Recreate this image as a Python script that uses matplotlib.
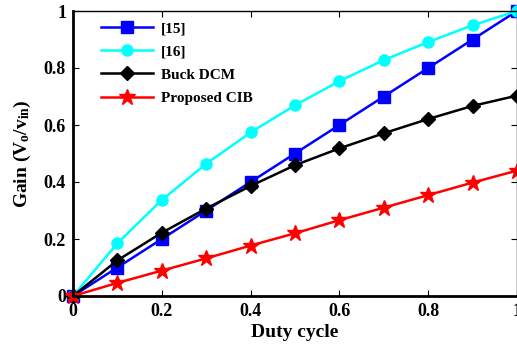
import matplotlib.pyplot as plt

plt.rcParams['font.family'] = 'Liberation Serif'
plt.rcParams['font.weight'] = 'bold'
plt.rcParams['axes.labelweight'] = 'bold'
plt.rcParams['mathtext.fontset'] = 'custom'
plt.rcParams['mathtext.rm'] = 'Liberation Serif:weight=bold'
plt.rcParams['mathtext.it'] = 'Liberation Serif:weight=bold'
plt.rcParams['mathtext.bf'] = 'Liberation Serif:weight=bold'

# duty cycle and gain values
duty = [0, 0.1, 0.2, 0.3, 0.4, 0.5, 0.6, 0.7, 0.8, 0.9, 1.0]
gain_15 = [0, 0.1, 0.2, 0.3, 0.4, 0.5, 0.6, 0.7, 0.8, 0.9, 1.0]
gain_16 = [0, 0.185, 0.337, 0.464, 0.574, 0.669, 0.754, 0.828, 0.891, 0.950, 1.0]
gain_buck = [0, 0.125, 0.222, 0.307, 0.386, 0.459, 0.518, 0.571, 0.621, 0.667, 0.703]
gain_cib = [0, 0.046, 0.089, 0.132, 0.177, 0.220, 0.266, 0.310, 0.354, 0.398, 0.440]

ticks = [0, 0.2, 0.4, 0.6, 0.8, 1]
tick_labels = ['0', '0.2', '0.4', '0.6', '0.8', '1']

fig = plt.figure(figsize=(5.17, 3.5), dpi=100)
ax = fig.add_axes([73 / 517, 54 / 350, 444 / 517, 285 / 350])

ax.plot(duty, gain_15, '-s', color='#0000ff', lw=1.8, ms=8, label='[15]', clip_on=False)
ax.plot(duty, gain_16, '-o', color='#00ffff', lw=1.8, ms=8, label='[16]', clip_on=False)
ax.plot(duty, gain_buck, '-D', color='black', lw=1.8, ms=7, label='Buck DCM', clip_on=False)
ax.plot(duty, gain_cib, '-*', color='red', lw=1.8, ms=12, label='Proposed CIB', clip_on=False)

ax.set_xlim(0, 1)
ax.set_ylim(0, 1)
ax.set_xticks(ticks)
ax.set_xticklabels(tick_labels)
ax.set_yticks(ticks)
ax.set_yticklabels(tick_labels)
ax.tick_params(direction='in', top=True, right=True, labelsize=13, length=4, pad=5)
for s in ['left', 'bottom']:
    ax.spines[s].set_linewidth(2)
for s in ['top', 'right']:
    ax.spines[s].set_linewidth(1)

ax.set_xlabel('Duty cycle', fontsize=14, fontweight='bold', labelpad=3)
ax.set_ylabel(r'Gain $(V_o/v_{in})$', fontsize=14, fontweight='bold', labelpad=8)

ax.legend(loc='upper left', frameon=False, fontsize=11, handlelength=3.4,
          handletextpad=0.5, labelspacing=0.62, borderaxespad=0.3,
          bbox_to_anchor=(0.04, 1.0))

fig.savefig('out.png', dpi=100)
